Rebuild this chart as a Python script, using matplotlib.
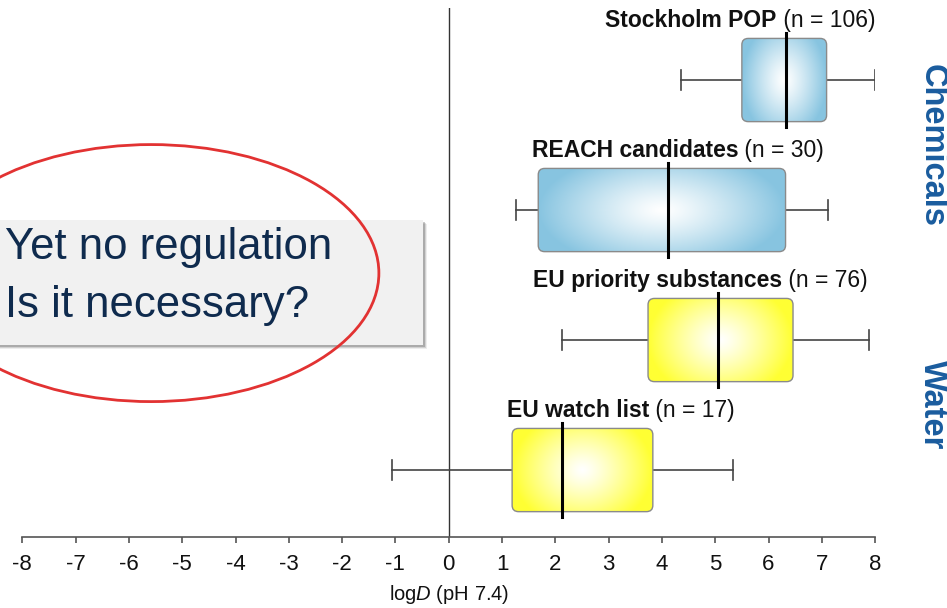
import numpy as np
import matplotlib
matplotlib.use('Agg')
import matplotlib.pyplot as plt
from matplotlib.patches import FancyBboxPatch, Ellipse, Rectangle

plt.rcParams['font.family'] = ['Liberation Sans', 'DejaVu Sans']
plt.rcParams['mathtext.fontset'] = 'custom'
plt.rcParams['mathtext.rm'] = 'Liberation Sans'
plt.rcParams['mathtext.it'] = 'Liberation Sans:italic'
plt.rcParams['axes.unicode_minus'] = False

# data (logD at pH 7.4)
categories = ['Stockholm POP', 'REACH candidates', 'EU priority substances', 'EU watch list']
n_values = [106, 30, 76, 17]
whisker_lo = [4.35, 1.26, 2.13, -1.07]
q1 = [5.50, 1.68, 3.74, 1.19]
median = [6.33, 4.11, 5.05, 2.13]
q3 = [7.09, 6.32, 6.46, 3.83]
whisker_hi = [8.0, 7.11, 7.89, 5.33]
groups = ['Chemicals', 'Chemicals', 'Water', 'Water']
label_x = [2.94, 1.56, 1.58, 1.09]

edge_colors = {'Chemicals': (0.53, 0.77, 0.88), 'Water': (1.0, 1.0, 0.2)}

fig = plt.figure(figsize=(9.47, 6.08), dpi=100)
ax = fig.add_axes([22.3 / 947, 71 / 608, 852.8 / 947, 529 / 608])
ax.set_xlim(-8, 8)
ax.set_ylim(-0.515, 3.554)

box_h = 0.64
px_x = 852.8 / 16      # pixels per x unit
px_y = 130.0           # pixels per y unit

ax.axvline(0, color='#333333', lw=1.0, zorder=1)

for i, name in enumerate(categories):
    y = 3 - i
    # whiskers
    ax.plot([whisker_lo[i], q1[i]], [y, y], color='#444444', lw=1.2, zorder=2)
    ax.plot([q3[i], whisker_hi[i]], [y, y], color='#444444', lw=1.2, zorder=2)
    for xw in (whisker_lo[i], whisker_hi[i]):
        ax.plot([xw, xw], [y - 0.08, y + 0.08], color='#444444', lw=1.2, zorder=2)

    # rounded box with radial gradient
    x0, x1 = q1[i], q3[i]
    y0, y1 = y - box_h / 2, y + box_h / 2
    patch = FancyBboxPatch((x0, y0), x1 - x0, y1 - y0,
                           boxstyle='round,pad=0,rounding_size=0.12',
                           mutation_aspect=px_x / px_y,
                           facecolor='none', edgecolor='#8a8a8a', lw=1.0, zorder=4)
    ax.add_patch(patch)
    gx, gy = np.meshgrid(np.linspace(-1, 1, 200), np.linspace(-1, 1, 80))
    d = np.sqrt(gx ** 2 + (gy * 0.7) ** 2)
    t = np.clip(d / 1.0, 0, 1) ** 1.2
    ec = np.array(edge_colors[groups[i]])
    img = (1 - t[..., None]) * np.ones(3) + t[..., None] * ec
    im = ax.imshow(img, extent=[x0, x1, y0, y1], aspect='auto', zorder=3,
                   interpolation='bilinear')
    im.set_clip_path(patch)

    # median
    ax.plot([median[i], median[i]], [y0 - 0.04, y1 + 0.04], color='black', lw=2.2, zorder=5)

    # label: bold name + normal count
    t_name = ax.text(label_x[i], y1 + 0.09, name, fontsize=16.5, fontweight='bold',
                     ha='left', va='baseline', color='#111111')
    ax.annotate(' (n = %d)' % n_values[i], xy=(1, 0), xycoords=t_name,
                fontsize=16.5, ha='left', va='bottom', color='#111111')

ax.set_xticks(np.arange(-8, 9, 1))
ax.set_yticks([])
for s in ('left', 'right', 'top'):
    ax.spines[s].set_visible(False)
ax.spines['bottom'].set_color('#555555')
ax.spines['bottom'].set_linewidth(1.2)
ax.tick_params(axis='x', direction='out', length=4, width=1.2, color='#555555',
               labelsize=16, pad=8, labelcolor='#111111')
ax.set_xlabel(r'log$\mathit{D}$ (pH 7.4)', fontsize=14.5, labelpad=6, color='#111111')

# group labels on the right
fig.text(932 / 947, 1 - 146 / 608, 'Chemicals', rotation=-90, ha='center', va='center',
         fontsize=23.5, fontweight='bold', color='#1a5c9e')
fig.text(932 / 947, 1 - 405 / 608, 'Water', rotation=-90, ha='center', va='center',
         fontsize=23.5, fontweight='bold', color='#1a5c9e')

# grey callout box with soft shadow (drawn inside the axes so the ellipse sits on top)
for k, a in enumerate([0.10, 0.18, 0.30]):
    off = 4 - k
    ax.add_patch(Rectangle(((-10 + off) / 947, 1 - (345 + off) / 608), 433 / 947, 125 / 608,
                           transform=fig.transFigure, facecolor='#555555', alpha=a,
                           edgecolor='none', clip_on=False, zorder=7))
ax.add_patch(Rectangle((-10 / 947, 1 - 345 / 608), 433 / 947, 125 / 608,
                       transform=fig.transFigure, facecolor='#f1f1f1',
                       edgecolor='none', clip_on=False, zorder=8))
ax.text(5 / 947, 1 - 247 / 608, 'Yet no regulation', fontsize=31.5, color='#0f2b4e',
        ha='left', va='center', transform=fig.transFigure, zorder=9)
ax.text(5 / 947, 1 - 305 / 608, 'Is it necessary?', fontsize=31.5, color='#0f2b4e',
        ha='left', va='center', transform=fig.transFigure, zorder=9)

# red ellipse
ell = Ellipse((-5.58, 1.515), 8.54, 1.977, facecolor='none', edgecolor='#e23232',
              lw=2.0, clip_on=False, zorder=10)
ax.add_patch(ell)

fig.savefig('out.png', dpi=100)
